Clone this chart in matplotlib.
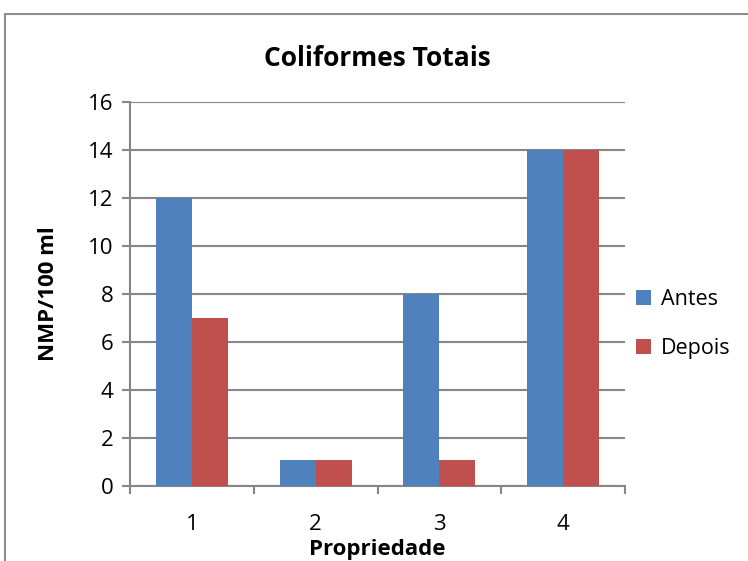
import numpy as np
import matplotlib.pyplot as plt
from matplotlib.patches import Rectangle

categories = ['1', '2', '3', '4']
antes = [12, 1.1, 8, 14]
depois = [7, 1.1, 1.1, 14]

plt.rcParams['font.family'] = ['Open Sans', 'DejaVu Sans']

W, H = 748, 561
fig = plt.figure(figsize=(W / 100, H / 100), dpi=100)

# outer chart border (cropped on right and bottom like the reference)
fig.patches.append(Rectangle((5 / W, -0.05), 1.1, 1 - 14 / H + 0.05,
                             transform=fig.transFigure, fill=False,
                             edgecolor='#8c8c8c', linewidth=1.5))

ax = fig.add_axes([130 / W, 1 - 486 / H, (625 - 130) / W, (486 - 102) / H])

x = np.arange(len(categories))
bw = 0.29
ax.bar(x - bw / 2, antes, bw, color='#4f81bd', label='Antes', zorder=3)
ax.bar(x + bw / 2, depois, bw, color='#c0504d', label='Depois', zorder=3)

ax.set_xlim(-0.5, len(categories) - 0.5)
ax.set_ylim(0, 16)
ax.set_yticks(np.arange(0, 17, 2))
ax.set_xticks(x)
ax.set_xticklabels(categories)
ax.set_xticks(np.arange(-0.5, len(categories), 1), minor=True)
ax.tick_params(axis='x', which='major', length=0, labelsize=16, pad=20)
ax.tick_params(axis='x', which='minor', length=6, color='#868686', width=1.5)
ax.tick_params(axis='y', length=6, color='#868686', width=1.5, labelsize=16, pad=6)
ax.yaxis.grid(True, color='#868686', linewidth=1.5, zorder=0)

for side in ['top', 'right']:
    ax.spines[side].set_visible(False)
for side in ['left', 'bottom']:
    ax.spines[side].set_color('#868686')
    ax.spines[side].set_linewidth(1.5)

ax.set_title('Coliformes Totais', fontsize=19, fontweight='bold', pad=26)
ax.set_ylabel('NMP/100 ml', fontsize=16, fontweight='bold', labelpad=21)
ax.set_xlabel('Propriedade', fontsize=16, fontweight='bold', labelpad=3)

ax.legend(loc='center left', bbox_to_anchor=(636 / W, 1 - 324 / H),
          bbox_transform=fig.transFigure, frameon=False, borderpad=0,
          borderaxespad=0, fontsize=15.5, handlelength=0.7, handleheight=0.7,
          labelspacing=1.3, handletextpad=0.45)

plt.savefig('out.png', dpi=100)
